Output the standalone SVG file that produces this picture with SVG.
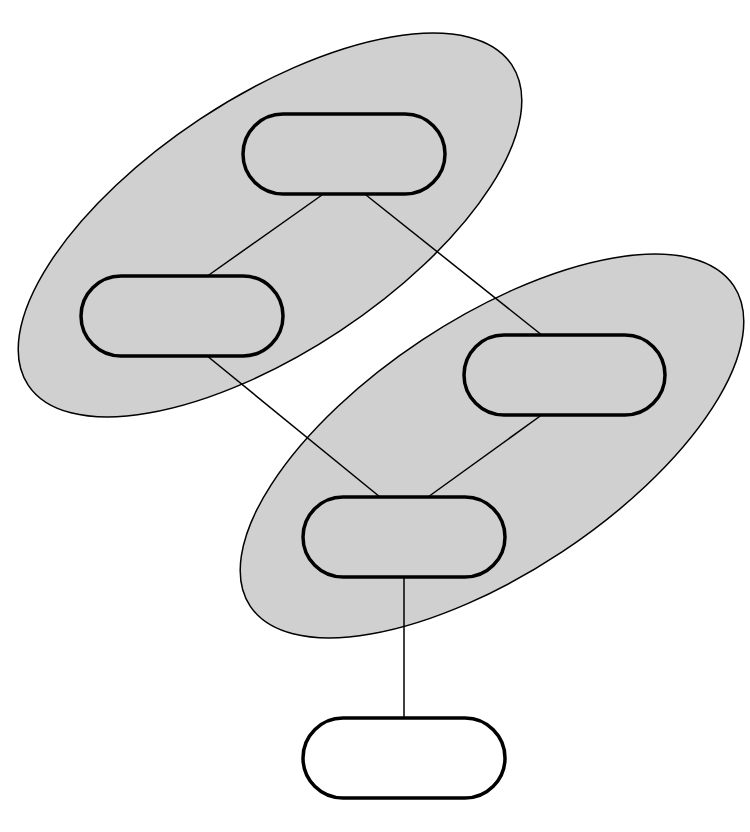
<svg xmlns="http://www.w3.org/2000/svg" width="750" height="832" viewBox="0 0 750 832">
<style>
.cluster{fill:#d0d0d0;stroke:#000;stroke-width:1.5}
.node{stroke:#000;stroke-width:3.5}
.in{fill:#d0d0d0}
.out{fill:#fff}
.edge{stroke:#000;stroke-width:1.5;fill:none}
</style>
<rect width="750" height="832" fill="#fff"/>
<g id="clusters">
<ellipse id="cluster1" class="cluster" cx="270" cy="225" rx="290" ry="127" transform="rotate(-33.5 270 225)"/>
<ellipse id="cluster2" class="cluster" cx="492" cy="446" rx="290" ry="127" transform="rotate(-33.5 492 446)"/>
</g>
<g id="connectors">
<line class="edge" x1="322" y1="195" x2="206" y2="277"/>
<line class="edge" x1="366" y1="195" x2="543" y2="336"/>
<line class="edge" x1="206" y1="355" x2="380" y2="497"/>
<line class="edge" x1="543" y1="414" x2="428" y2="497"/>
<line class="edge" x1="404" y1="577" x2="404" y2="718"/>
</g>
<g id="n1"><rect class="node in" x="243" y="114" width="202" height="80" rx="40"/></g>
<g id="n2"><rect class="node in" x="81" y="276" width="202" height="80" rx="40"/></g>
<g id="n3"><rect class="node in" x="464" y="335" width="201" height="80" rx="40"/></g>
<g id="n4"><rect class="node in" x="303" y="497" width="202" height="80" rx="40"/></g>
<g id="n5"><rect class="node out" x="303" y="718" width="202" height="80" rx="40"/></g>
</svg>
